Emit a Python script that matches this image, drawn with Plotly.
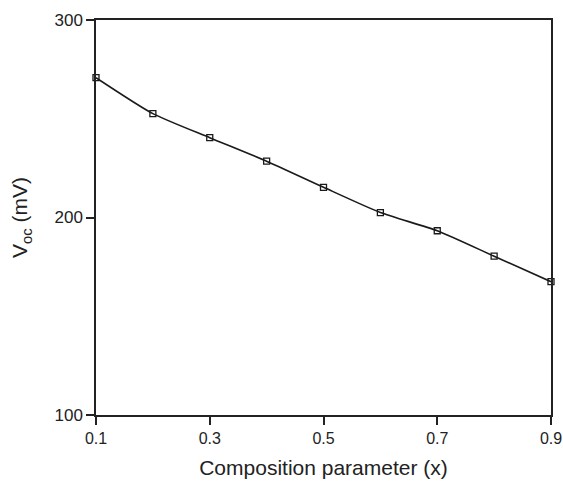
import plotly.graph_objects as go

x_vals = [0.1, 0.2, 0.3, 0.4, 0.5, 0.6, 0.7, 0.8, 0.9]
voc_mv = [270.8, 252.6, 240.4, 228.5, 215.3, 202.5, 193.3, 180.4, 167.5]
x_ticks = [0.1, 0.3, 0.5, 0.7, 0.9]
y_ticks = [100, 200, 300]

fig = go.Figure()
fig.add_trace(go.Scatter(
    x=x_vals, y=voc_mv, mode="lines+markers",
    line=dict(color="#1a1a1a", width=1.6, shape="spline", smoothing=0.6),
    marker=dict(symbol="square-open", size=6, color="#1a1a1a", line=dict(width=1.3)),
    cliponaxis=False, showlegend=False,
))

font_family = "Liberation Sans, Arial, Helvetica, sans-serif"
fig.update_layout(
    width=563, height=485,
    margin=dict(l=96, r=12, t=20, b=70, autoexpand=False),
    paper_bgcolor="white", plot_bgcolor="white",
    font=dict(family=font_family, color="#222", size=16),
)
fig.update_xaxes(
    range=[0.1, 0.9], tickvals=x_ticks, ticktext=[f"{v:.1f}" for v in x_ticks],
    showgrid=False, zeroline=False, showline=True, linecolor="#222", linewidth=1.5,
    mirror=True, ticks="outside", ticklen=8, tickwidth=1.5, tickcolor="#222",
    tickfont=dict(size=16), ticklabeloverflow="allow",
    title=dict(text="Composition parameter (x)", font=dict(size=21), standoff=14),
)
fig.update_yaxes(
    range=[100, 300], tickvals=y_ticks,
    showgrid=False, zeroline=False, showline=True, linecolor="#222", linewidth=1.5,
    mirror=True, ticks="outside", ticklen=8, tickwidth=1.5, tickcolor="#222",
    tickfont=dict(size=17), ticklabeloverflow="allow",
    title=dict(text="V<sub>oc</sub> (mV)", font=dict(size=21), standoff=21),
)
fig.write_html(
    "out.html",
    config={"displayModeBar": False},
    post_script="document.body.style.margin='0';document.body.style.overflow='hidden';",
)
